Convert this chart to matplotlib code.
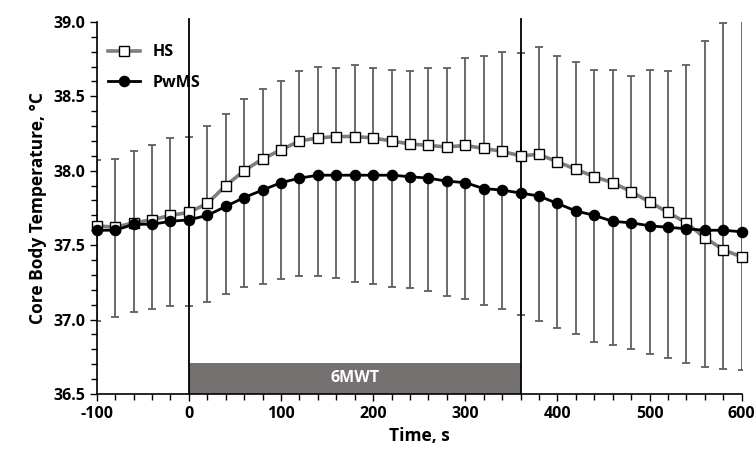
import numpy as np
import matplotlib
matplotlib.use('Agg')
import matplotlib.pyplot as plt
from matplotlib.ticker import MultipleLocator

plt.rcParams['font.family'] = ['Open Sans', 'DejaVu Sans']
plt.rcParams['font.weight'] = 'bold'
plt.rcParams['axes.unicode_minus'] = False

# data
time_s = list(range(-100, 601, 20))
hs_mean = [37.63, 37.62, 37.65, 37.67, 37.70, 37.72, 37.78, 37.90, 38.00, 38.08,
           38.14, 38.20, 38.22, 38.23, 38.23, 38.22, 38.20, 38.18, 38.17, 38.16,
           38.17, 38.15, 38.13, 38.10, 38.11, 38.06, 38.01, 37.96, 37.92, 37.86,
           37.79, 37.72, 37.65, 37.55, 37.47, 37.42]
hs_upper = [38.07, 38.08, 38.13, 38.17, 38.22, 38.23, 38.30, 38.38, 38.48, 38.55,
            38.60, 38.67, 38.70, 38.69, 38.71, 38.69, 38.68, 38.67, 38.69, 38.69,
            38.76, 38.77, 38.80, 38.79, 38.83, 38.77, 38.73, 38.68, 38.68, 38.64,
            38.68, 38.67, 38.71, 38.87, 38.99, 39.10]
pwms_mean = [37.60, 37.60, 37.64, 37.64, 37.66, 37.67, 37.70, 37.76, 37.82, 37.87,
             37.92, 37.95, 37.97, 37.97, 37.97, 37.97, 37.97, 37.96, 37.95, 37.93,
             37.92, 37.88, 37.87, 37.85, 37.83, 37.78, 37.73, 37.70, 37.66, 37.65,
             37.63, 37.62, 37.61, 37.60, 37.60, 37.59]
pwms_lower = [36.99, 37.02, 37.05, 37.07, 37.09, 37.09, 37.12, 37.17, 37.22, 37.24,
              37.27, 37.29, 37.29, 37.28, 37.25, 37.24, 37.22, 37.21, 37.19, 37.16,
              37.14, 37.10, 37.07, 37.03, 36.99, 36.94, 36.90, 36.85, 36.83, 36.80,
              36.77, 36.74, 36.71, 36.68, 36.67, 36.66]
walk_start, walk_end = 0, 360

t = np.array(time_s)
hs = np.array(hs_mean)
pw = np.array(pwms_mean)

fig = plt.figure(figsize=(7.56, 4.57), dpi=100)
ax = fig.add_axes([0.128, 0.138, 0.853, 0.814])

# 6MWT bar
ax.fill_between([walk_start, walk_end], 36.5, 36.71, color='#767171', lw=0, zorder=1)
ax.text((walk_start + walk_end) / 2, 36.605, '6MWT', color='white', fontsize=11.5,
        fontweight='bold', ha='center', va='center', zorder=2)

# walk start / end lines
for xv in (walk_start, walk_end):
    ax.plot([xv, xv], [36.5, 39.02], color='black', lw=1.3, zorder=3, clip_on=False)

# error bars (HS upward, PwMS downward)
ax.errorbar(t, hs, yerr=[np.zeros_like(hs), np.array(hs_upper) - hs], fmt='none',
            ecolor='#5f5f5f', elinewidth=1.3, capsize=3, capthick=1.3, zorder=2)
ax.errorbar(t, pw, yerr=[pw - np.array(pwms_lower), np.zeros_like(pw)], fmt='none',
            ecolor='#5f5f5f', elinewidth=1.3, capsize=3, capthick=1.3, zorder=2)

ax.plot(t, hs, color='#7f7f7f', lw=2.6, marker='s', ms=7.5, mfc='white',
        mec='black', mew=1.0, label='HS', zorder=4, clip_on=False)
ax.plot(t, pw, color='black', lw=2.0, marker='o', ms=7.3, mfc='black',
        mec='black', label='PwMS', zorder=5, clip_on=False)

ax.set_xlim(-100, 600)
ax.set_ylim(36.5, 39.0)
ax.xaxis.set_major_locator(MultipleLocator(100))
ax.xaxis.set_minor_locator(MultipleLocator(20))
ax.yaxis.set_major_locator(MultipleLocator(0.5))
ax.yaxis.set_minor_locator(MultipleLocator(0.1))
ax.yaxis.set_major_formatter(plt.FormatStrFormatter('%.1f'))
ax.tick_params(which='major', length=5, width=1, labelsize=11.5)
ax.tick_params(which='minor', length=4, width=1)
ax.spines['top'].set_visible(False)
ax.spines['right'].set_visible(False)
ax.spines['left'].set_linewidth(1.2)
ax.spines['bottom'].set_linewidth(1.2)

ax.set_xlabel('Time, s', fontsize=12.5, fontweight='bold')
ax.set_ylabel('Core Body Temperature, °C', fontsize=12.5, fontweight='bold')

ax.legend(loc='upper left', frameon=False, fontsize=11.5, handlelength=2.0,
          labelspacing=0.9, bbox_to_anchor=(0.0, 0.97), borderaxespad=0.3)

fig.savefig('out.png', dpi=100)
